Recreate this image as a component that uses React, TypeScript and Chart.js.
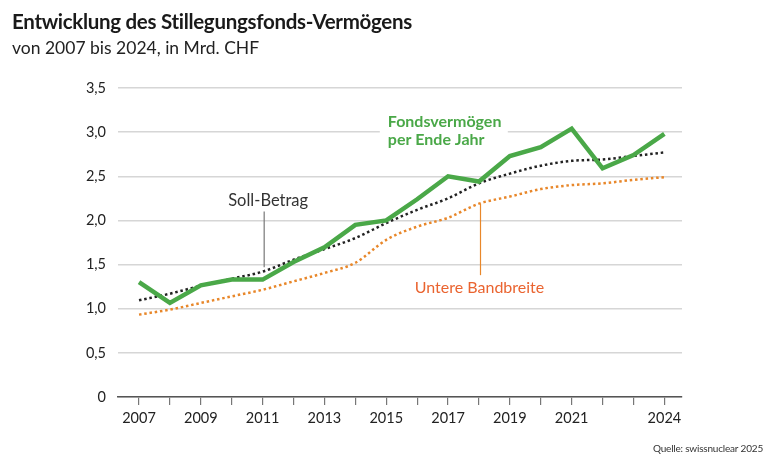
import React, { useEffect, useRef } from "react";
import { Chart, registerables } from "chart.js";

Chart.register(...registerables);

const years = [2007, 2008, 2009, 2010, 2011, 2012, 2013, 2014, 2015, 2016, 2017, 2018, 2019, 2020, 2021, 2022, 2023, 2024];
const fondsvermoegen = [1.3, 1.066, 1.265, 1.33, 1.33, 1.53, 1.695, 1.95, 2.0, 2.24, 2.5, 2.44, 2.73, 2.83, 3.04, 2.59, 2.74, 2.98];
const sollBetrag = [1.095, 1.17, 1.26, 1.34, 1.42, 1.555, 1.675, 1.8, 1.97, 2.12, 2.25, 2.42, 2.53, 2.62, 2.675, 2.69, 2.73, 2.77];
const untereBandbreite = [0.933, 0.99, 1.065, 1.14, 1.215, 1.31, 1.405, 1.52, 1.78, 1.93, 2.03, 2.19, 2.27, 2.355, 2.4, 2.42, 2.46, 2.49];
const labeledYears = [2007, 2009, 2011, 2013, 2015, 2017, 2019, 2021, 2024];

const title = "Entwicklung des Stillegungsfonds-Vermögens";
const subtitle = "von 2007 bis 2024, in Mrd. CHF";
const source = "Quelle: swissnuclear 2025";

const FONT = "Lato, 'Open Sans', sans-serif";
const GREEN = "#4aa848";
const ORANGE_LINE = "#e8872a";
const ORANGE_TEXT = "#ea6430";

const toXY = (arr: number[]) => arr.map((v, i) => ({ x: years[i], y: v }));

const annotationPlugin = {
  id: "annots",
  beforeDatasetsDraw(chart: any) {
    const ctx = chart.ctx;
    const xs = chart.scales.x;
    const ys = chart.scales.y;
    ctx.save();
    const lx = xs.getPixelForValue(2015.05);
    const ly = ys.getPixelForValue(3.0);
    ctx.fillStyle = "#ffffff";
    ctx.fillRect(lx - 8, ly - 24, 128, 44);
    ctx.fillStyle = GREEN;
    ctx.font = `bold 16px ${FONT}`;
    ctx.textAlign = "left";
    ctx.textBaseline = "middle";
    ctx.fillText("Fondsvermögen", lx, ly - 10);
    ctx.fillText("per Ende Jahr", lx, ly + 8);
    ctx.restore();
  },
  afterDraw(chart: any) {
    const ctx = chart.ctx;
    const xs = chart.scales.x;
    const ys = chart.scales.y;
    ctx.save();
    ctx.textAlign = "left";
    ctx.textBaseline = "alphabetic";
    ctx.fillStyle = "#1a1a1a";
    ctx.font = `bold 20.5px ${FONT}`;
    (ctx as any).letterSpacing = "-0.3px";
    ctx.fillText(title, 12, 29);
    (ctx as any).letterSpacing = "0px";
    ctx.font = `17.5px ${FONT}`;
    ctx.fillStyle = "#222";
    ctx.fillText(subtitle, 12, 54);
    ctx.font = `10px ${FONT}`;
    (ctx as any).letterSpacing = "-0.2px";
    ctx.textAlign = "right";
    ctx.fillStyle = "#333";
    ctx.fillText(source, 763, 452);
    (ctx as any).letterSpacing = "0px";

    // Soll-Betrag
    const sx = xs.getPixelForValue(2011.05);
    const sTop = ys.getPixelForValue(2.1);
    const sBot = ys.getPixelForValue(1.47);
    ctx.strokeStyle = "#777";
    ctx.lineWidth = 1.2;
    ctx.beginPath();
    ctx.moveTo(sx, sTop);
    ctx.lineTo(sx, sBot);
    ctx.stroke();
    ctx.fillStyle = "#333";
    ctx.font = `16.5px ${FONT}`;
    ctx.textAlign = "center";
    ctx.textBaseline = "middle";
    ctx.fillText("Soll-Betrag", sx + 4, sTop - 11);

    // Untere Bandbreite
    const ux = xs.getPixelForValue(2018.05);
    const uTop = ys.getPixelForValue(2.19);
    const uBot = ys.getPixelForValue(1.38);
    ctx.strokeStyle = ORANGE_LINE;
    ctx.beginPath();
    ctx.moveTo(ux, uTop);
    ctx.lineTo(ux, uBot);
    ctx.stroke();
    ctx.fillStyle = ORANGE_TEXT;
    ctx.font = `16px ${FONT}`;
    ctx.textAlign = "center";
    ctx.fillText("Untere Bandbreite", ux - 1, uBot + 13);
    ctx.restore();
  },
};

export default function App() {
  const ref = useRef<HTMLCanvasElement | null>(null);
  useEffect(() => {
    if (!ref.current) return;
    const chart = new Chart(ref.current, {
      type: "line",
      data: {
        datasets: [
          {
            label: "Fondsvermögen per Ende Jahr",
            data: toXY(fondsvermoegen),
            borderColor: GREEN,
            borderWidth: 4.5,
            pointRadius: 0,
            tension: 0,
            borderJoinStyle: "miter",
          },
          {
            label: "Soll-Betrag",
            data: toXY(sollBetrag),
            borderColor: "#222",
            borderWidth: 2.5,
            borderDash: [2.5, 2.8],
            pointRadius: 0,
            cubicInterpolationMode: "monotone",
          },
          {
            label: "Untere Bandbreite",
            data: toXY(untereBandbreite),
            borderColor: ORANGE_LINE,
            borderWidth: 2.5,
            borderDash: [2.5, 2.8],
            pointRadius: 0,
            cubicInterpolationMode: "monotone",
          },
        ],
      },
      options: {
        responsive: false,
        animation: false,
        layout: { padding: { left: 0, right: 98, top: 88, bottom: 0 } },
        plugins: { legend: { display: false }, tooltip: { enabled: false } },
        scales: {
          x: {
            type: "linear",
            min: 2006.32,
            max: 2024.57,
            afterFit: (s: any) => {
              s.height = 67;
            },
            ticks: {
              stepSize: 1,
              autoSkip: false,
              includeBounds: false,
              maxRotation: 0,
              padding: 5,
              color: "#222",
              font: { family: FONT, size: 14.5 },
              callback: (v: any) => (labeledYears.includes(Number(v)) ? String(v) : ""),
            },
            grid: {
              drawOnChartArea: false,
              drawTicks: true,
              tickLength: 8,
              color: "#777",
              lineWidth: 1.2,
            },
            border: { display: true, color: "#555", width: 1.5 },
          },
          y: {
            min: 0,
            max: 3.5,
            afterFit: (s: any) => {
              s.width = 118;
            },
            ticks: {
              stepSize: 0.5,
              padding: 12,
              color: "#222",
              font: { family: FONT, size: 14.5 },
              callback: (v: any) => (Number(v) === 0 ? "0" : Number(v).toFixed(1).replace(".", ",")),
            },
            grid: { color: "#d6d6d6", lineWidth: 1.5, drawTicks: false },
            border: { display: false },
          },
        },
      },
      plugins: [annotationPlugin],
    } as any);
    return () => chart.destroy();
  }, []);
  return (
    <div style={{ position: "fixed", left: 0, top: 0, width: 780, height: 464, background: "#fff" }}>
      <canvas ref={ref} width={780} height={464} style={{ width: 780, height: 464, display: "block" }} />
    </div>
  );
}
